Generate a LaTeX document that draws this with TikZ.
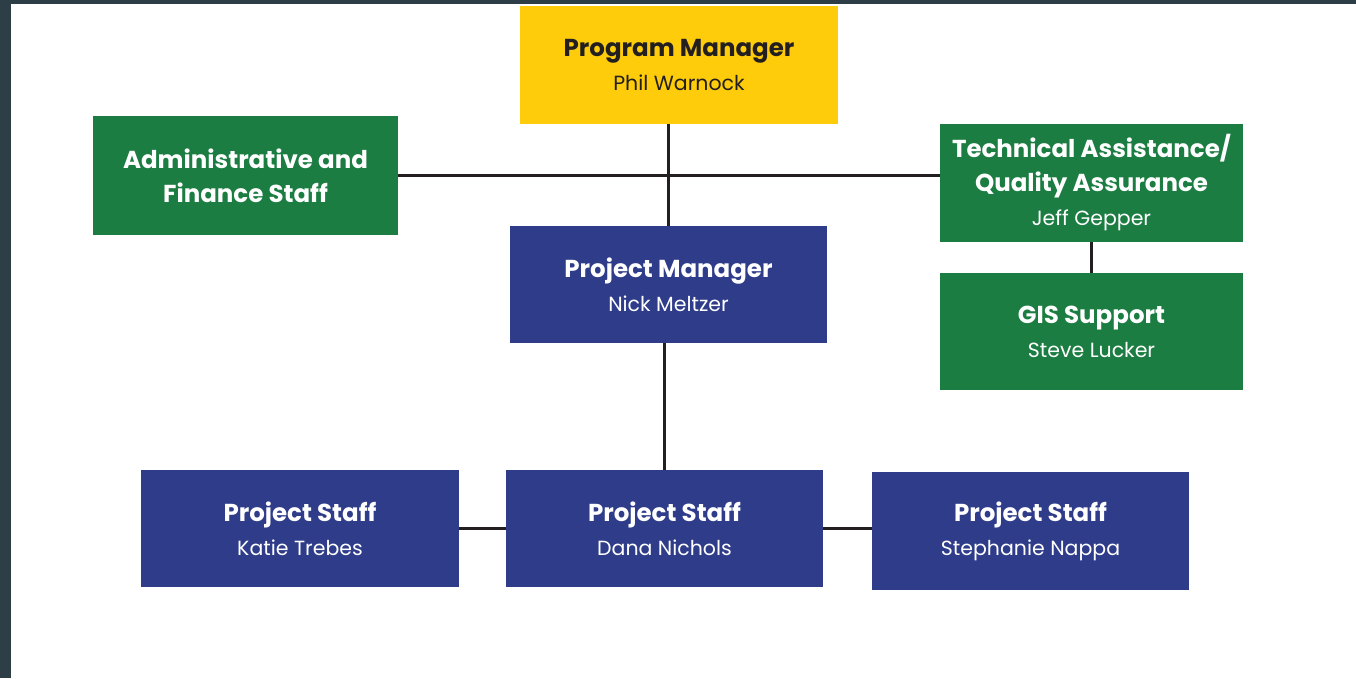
\documentclass[tikz,border=0pt]{standalone}
\usepackage{fontspec}
\setmainfont{Poppins}
\definecolor{pmyellow}{HTML}{FECC0A}
\definecolor{orggreen}{HTML}{1B7D41}
\definecolor{orgnavy}{HTML}{2E3C89}
\definecolor{frame}{HTML}{2D3E46}
\definecolor{inkdark}{HTML}{231F20}
\newcommand{\pname}{\fontsize{20.5}{32}\selectfont}
\begin{document}
\begin{tikzpicture}[x=1pt,y=1pt,
  box/.style={rectangle, inner sep=0pt, align=center, text=white,
    font=\fontsize{24.5}{34}\selectfont},
  yellowbox/.style={box, fill=pmyellow, text=inkdark},
  greenbox/.style={box, fill=orggreen},
  navybox/.style={box, fill=orgnavy},
  link/.style={draw=inkdark, line width=3pt}]
\useasboundingbox (0,0) rectangle (1356,-678);
\fill[white] (0,0) rectangle (1356,-678);
\fill[frame] (0,0) rectangle (11,-678);
\fill[frame] (0,0) rectangle (1356,-4);
% nodes
\node[yellowbox, minimum width=318pt, minimum height=118pt] (pm) at (679,-65)
  {\textbf{Program Manager}\\\pname Phil Warnock};
\node[greenbox, minimum width=305pt, minimum height=119pt] (admin) at (245.5,-175.5)
  {\textbf{Administrative and}\\\textbf{Finance Staff}};
\node[greenbox, minimum width=303pt, minimum height=118pt] (ta) at (1091.5,-183)
  {\textbf{Technical Assistance/}\\\textbf{Quality Assurance}\\\pname Jeff Gepper};
\node[greenbox, minimum width=303pt, minimum height=117pt] (gis) at (1091.5,-331.5)
  {\textbf{GIS Support}\\\pname Steve Lucker};
\node[navybox, minimum width=317pt, minimum height=117pt] (projmgr) at (668.5,-284.5)
  {\textbf{Project Manager}\\\pname Nick Meltzer};
\node[navybox, minimum width=318pt, minimum height=117pt] (katie) at (300,-528.5)
  {\textbf{Project Staff}\\\pname Katie Trebes};
\node[navybox, minimum width=317pt, minimum height=117pt] (dana) at (664.5,-528.5)
  {\textbf{Project Staff}\\\pname Dana Nichols};
\node[navybox, minimum width=317pt, minimum height=118pt] (steph) at (1030.5,-531)
  {\textbf{Project Staff}\\\pname Stephanie Nappa};
% connectors
\draw[link] (projmgr.north) -- (projmgr.north |- pm.south);
\draw[link] (admin.east) -- (admin.east -| ta.west);
\draw[link] (dana.north) -- (dana.north |- projmgr.south);
\draw[link] (katie.east) -- (dana.west);
\draw[link] (dana.east) -- (dana.east -| steph.west);
\draw[link] (ta.south) -- (gis.north);
\end{tikzpicture}
\end{document}
